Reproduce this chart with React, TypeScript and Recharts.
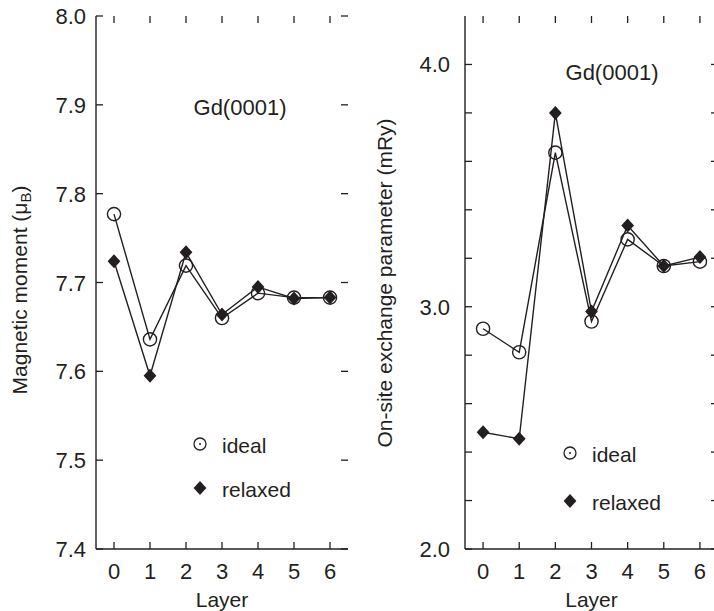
import { Line, LineChart, XAxis, YAxis } from "recharts";

const layers = [0, 1, 2, 3, 4, 5, 6];

const momentIdeal = [7.777, 7.636, 7.719, 7.66, 7.688, 7.683, 7.683];
const momentRelaxed = [7.724, 7.595, 7.734, 7.664, 7.695, 7.682, 7.683];
const momentTicks = [7.4, 7.5, 7.6, 7.7, 7.8, 7.9, 8.0];

const exchangeIdeal = [2.909, 2.812, 3.636, 2.939, 3.278, 3.168, 3.186];
const exchangeRelaxed = [2.482, 2.455, 3.8, 2.98, 3.335, 3.168, 3.205];
const exchangeTicks = [2.0, 2.2, 2.4, 2.6, 2.8, 3.0, 3.2, 3.4, 3.6, 3.8, 4.0];

const INK = "#231f20";
const FONT = "'Liberation Sans', Arial, Helvetica, sans-serif";
const TICK_LEN = 7;
const H = 611;
const TOP = 16;
const BOTTOM_AXIS_H = 62;
const RIGHT_GAP = 12;
const PLOT_BOTTOM = H - BOTTOM_AXIS_H;

const momentData = layers.map((layer, i) => ({
  layer,
  ideal: momentIdeal[i],
  relaxed: momentRelaxed[i],
}));

const exchangeData = layers.map((layer, i) => ({
  layer,
  ideal: exchangeIdeal[i],
  relaxed: exchangeRelaxed[i],
}));

// recharts only draws ticks outward, so the inward marks on all four sides
// are drawn here from the tick positions the axes hand us
function XTick(props: any) {
  const { x, payload } = props;
  return (
    <g>
      <line x1={x} x2={x} y1={PLOT_BOTTOM} y2={PLOT_BOTTOM - TICK_LEN} stroke={INK} strokeWidth={1.3} />
      <line x1={x} x2={x} y1={TOP} y2={TOP + TICK_LEN} stroke={INK} strokeWidth={1.3} />
      <text
        x={x}
        y={PLOT_BOTTOM + 30}
        textAnchor="middle"
        fontSize={22}
        fontFamily={FONT}
        fill={INK}
      >
        {payload.value}
      </text>
    </g>
  );
}

function YTick(props: any) {
  const { y, payload, left, right, gap, format } = props;
  return (
    <g>
      <line x1={left} x2={left + TICK_LEN} y1={y} y2={y} stroke={INK} strokeWidth={1.3} />
      <line x1={right} x2={right - TICK_LEN} y1={y} y2={y} stroke={INK} strokeWidth={1.3} />
      <text
        x={left - gap}
        y={y + 8}
        textAnchor="end"
        fontSize={22}
        fontFamily={FONT}
        fill={INK}
      >
        {format(payload.value)}
      </text>
    </g>
  );
}

function OpenCircle(props: any) {
  const { cx, cy } = props;
  if (cx == null || cy == null) return <g />;
  return <circle cx={cx} cy={cy} r={6.6} fill="none" stroke={INK} strokeWidth={1.4} />;
}

function Diamond(props: any) {
  const { cx, cy } = props;
  if (cx == null || cy == null) return <g />;
  return (
    <polygon
      points={`${cx},${cy - 7} ${cx + 6.4},${cy} ${cx},${cy + 7} ${cx - 6.4},${cy}`}
      fill={INK}
    />
  );
}

function Legend2({ x, y1, y2 }: { x: number; y1: number; y2: number }) {
  return (
    <g fontFamily={FONT} fontSize={21} fill={INK}>
      <circle cx={x} cy={y1} r={6} fill="none" stroke={INK} strokeWidth={1.3} />
      <circle cx={x} cy={y1} r={1} fill={INK} />
      <text x={x + 22} y={y1 + 8.5}>
        ideal
      </text>
      <polygon
        points={`${x},${y2 - 7} ${x + 6.4},${y2} ${x},${y2 + 7} ${x - 6.4},${y2}`}
        fill={INK}
      />
      <text x={x + 22} y={y2 + 8.5}>
        relaxed
      </text>
    </g>
  );
}

function Panel({
  data,
  width,
  yWidth,
  domain,
  ticks,
  labelGap,
  format,
  rightFrame,
  children,
}: {
  data: { layer: number; ideal: number; relaxed: number }[];
  width: number;
  yWidth: number;
  domain: [number, number];
  ticks: number[];
  labelGap: number;
  format: (v: number) => string;
  rightFrame: boolean;
  children?: any;
}) {
  const axisLine = { stroke: INK, strokeWidth: 1.4 };
  return (
    <LineChart
      width={width}
      height={H}
      data={data}
      margin={{ top: TOP, right: RIGHT_GAP, left: 0, bottom: 0 }}
    >
      <XAxis
        xAxisId="bottom"
        type="number"
        dataKey="layer"
        domain={[-0.5, 6.5]}
        ticks={layers}
        interval={0}
        allowDataOverflow
        height={BOTTOM_AXIS_H}
        tickLine={false}
        tick={<XTick />}
        axisLine={axisLine}
        label={{
          value: "Layer",
          position: "insideBottom",
          offset: 4,
          fontSize: 21,
          fill: INK,
          fontFamily: FONT,
        }}
      />
      <XAxis
        xAxisId="top"
        orientation="top"
        type="number"
        dataKey="layer"
        domain={[-0.5, 6.5]}
        allowDataOverflow
        height={0}
        tick={false}
        tickLine={false}
        axisLine={axisLine}
      />
      <YAxis
        yAxisId="left"
        type="number"
        domain={domain}
        ticks={ticks}
        interval={0}
        allowDataOverflow
        width={yWidth}
        tickLine={false}
        tick={
          <YTick
            left={yWidth}
            right={width - RIGHT_GAP}
            gap={labelGap}
            format={format}
          />
        }
        axisLine={axisLine}
      />
      <YAxis
        yAxisId="right"
        orientation="right"
        type="number"
        domain={domain}
        allowDataOverflow
        width={0}
        tick={false}
        tickLine={false}
        axisLine={rightFrame ? axisLine : false}
      />
      <Line
        xAxisId="bottom"
        yAxisId="left"
        type="linear"
        dataKey="ideal"
        stroke={INK}
        strokeWidth={1.4}
        dot={(p: any) => <OpenCircle key={`i${p.index}`} {...p} />}
        isAnimationActive={false}
      />
      <Line
        xAxisId="bottom"
        yAxisId="left"
        type="linear"
        dataKey="relaxed"
        stroke={INK}
        strokeWidth={1.4}
        dot={(p: any) => <Diamond key={`r${p.index}`} {...p} />}
        isAnimationActive={false}
      />
      {children}
    </LineChart>
  );
}

export default function App() {
  return (
    <div
      style={{
        position: "absolute",
        left: 0,
        top: 0,
        width: 714,
        height: H,
        overflow: "hidden",
        background: "#fff",
      }}
    >
      <div style={{ position: "absolute", left: 0, top: 0 }}>
        <Panel
          data={momentData}
          width={360}
          yWidth={96}
          domain={[7.4, 8.0]}
          ticks={momentTicks}
          labelGap={10}
          format={(v) => v.toFixed(1)}
          rightFrame
        >
          <text
            x={240}
            y={115}
            textAnchor="middle"
            fontSize={22}
            fontFamily={FONT}
            fill={INK}
          >
            Gd(0001)
          </text>
          <text
            x={27}
            y={290}
            transform="rotate(-90, 27, 290)"
            textAnchor="middle"
            fontSize={21}
            fontFamily={FONT}
            fill={INK}
          >
            <tspan>Magnetic moment (μ</tspan>
            <tspan fontSize={15} dy={4}>
              B
            </tspan>
            <tspan dy={-4}>)</tspan>
          </text>
          <Legend2 x={200} y1={444} y2={488} />
        </Panel>
      </div>
      <div style={{ position: "absolute", left: 360, top: 0 }}>
        <Panel
          data={exchangeData}
          width={370}
          yWidth={105}
          domain={[2.0, 4.2]}
          ticks={exchangeTicks}
          labelGap={15}
          format={(v) =>
            Math.abs(v - Math.round(v)) < 1e-6 ? v.toFixed(1) : ""
          }
          rightFrame={false}
        >
          <text
            x={252}
            y={80}
            textAnchor="middle"
            fontSize={22}
            fontFamily={FONT}
            fill={INK}
          >
            Gd(0001)
          </text>
          <text
            x={32}
            y={283}
            transform="rotate(-90, 32, 283)"
            textAnchor="middle"
            fontSize={21}
            fontFamily={FONT}
            fill={INK}
          >
            On-site exchange parameter (mRy)
          </text>
          <Legend2 x={210} y1={453} y2={501} />
        </Panel>
      </div>
    </div>
  );
}
